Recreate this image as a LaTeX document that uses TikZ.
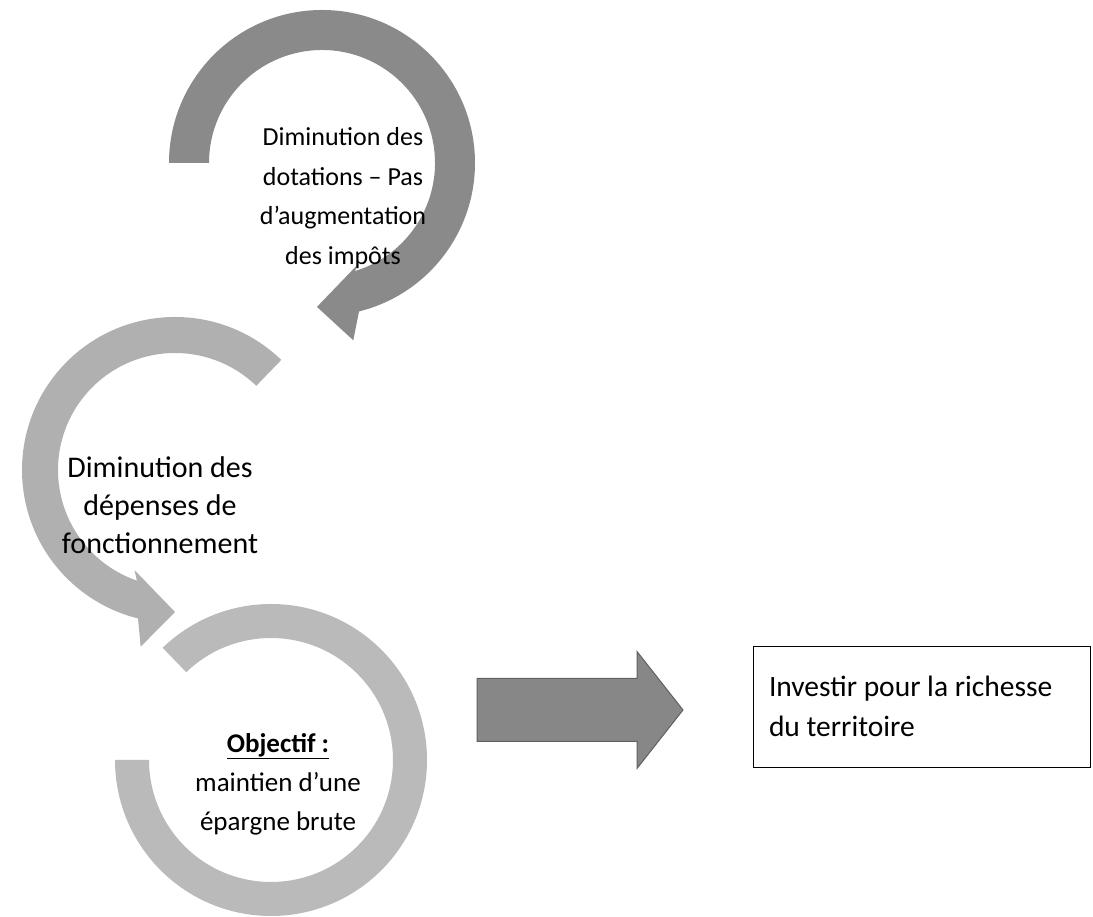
\documentclass[tikz,border=0pt]{standalone}
\usepackage{fontspec}
\setmainfont{Carlito}
\usetikzlibrary{positioning}

\begin{document}
\begin{tikzpicture}[x=1pt, y=1pt,
  ring top/.style={fill=black!46},
  ring mid/.style={fill=black!31},
  ring low/.style={fill=black!27},
  caption/.style={align=center, inner sep=0pt,
    font=\fontsize{26}{39.5}\selectfont},
  goalbox/.style={draw=black, line width=0.8pt, align=flush left,
    minimum width=337, minimum height=121, text width=305,
    inner xsep=16, font=\fontsize{29.5}{40}\selectfont},
  push arrow/.style={fill=black!47, draw=black!62, line width=1pt}
  ]
  \useasboundingbox (0,0) rectangle (1093,917);

  % centres of the three rings
  \coordinate (ctop) at (322,754);
  \coordinate (cmid) at (175,447);
  \coordinate (clow) at (271,157);

  % top ring, clockwise
  \fill[ring top] ([shift={(ctop)}]180:153)
    arc[start angle=180, end angle=-76, radius=153]
    -- ([shift={(ctop)}]-80:180) -- ([shift={(ctop)}]-92:144)
    -- ([shift={(ctop)}]-71:108) -- ([shift={(ctop)}]-73:113)
    arc[start angle=-73, end angle=180, radius=113] -- cycle;

  % middle ring, counterclockwise
  \fill[ring mid] ([shift={(cmid)}]46:153)
    arc[start angle=46, end angle=256, radius=153]
    -- ([shift={(cmid)}]259:180) -- ([shift={(cmid)}]270:142)
    -- ([shift={(cmid)}]248:108) -- ([shift={(cmid)}]251:117)
    arc[start angle=251, end angle=46, radius=117] -- cycle;

  % lower ring
  \fill[ring low] ([shift={(clow)}]180:156)
    arc[start angle=180, end angle=494, radius=156]
    -- ([shift={(clow)}]494:122)
    arc[start angle=494, end angle=180, radius=122] -- cycle;

  \node[caption] (dotations) at (343,719)
    {Diminution des\\dotations – Pas\\d’augmentation\\des impôts};
  \node[caption, font=\fontsize{30}{38}\selectfont] (depenses) at (160,412)
    {Diminution des\\dépenses de\\fonctionnement};
  \node[caption, font=\fontsize{27}{39}\selectfont] (objectif) at (278,133)
    {\underline{\textbf{Objectif :}}\\maintien d’une\\épargne brute};

  \node[goalbox] (investir) at (921.5,210.5)
    {Investir pour la richesse\\du territoire};

  % block arrow towards the box
  \draw[push arrow] (477,238.5) -- (637,238.5) -- (637,265.5)
    -- (683,207) -- (637,148.5) -- (637,175.5) -- (477,175.5) -- cycle;
\end{tikzpicture}
\end{document}
